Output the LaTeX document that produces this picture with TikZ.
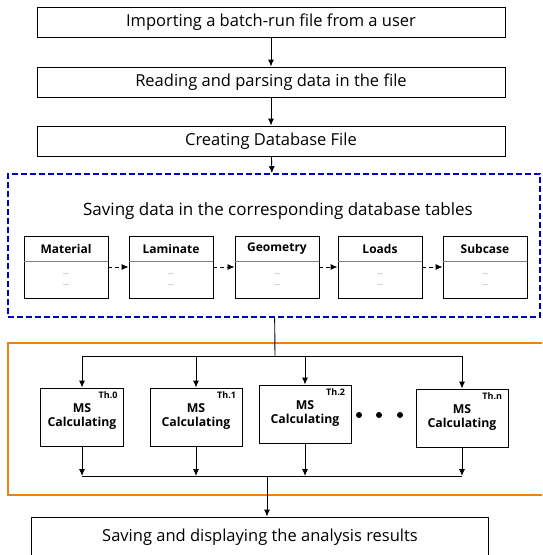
\documentclass[tikz,border=0pt]{standalone}
\usepackage{fontspec}
\setmainfont{Open Sans}
\usetikzlibrary{positioning,arrows.meta}

\begin{document}
\begin{tikzpicture}[x=1pt,y=-1pt,line width=0.9pt,
  arr/.style={-{Latex[length=7pt,width=6pt]}},
  procbox/.style={draw,inner sep=0pt,minimum width=468pt,minimum height=30pt,font=\fontsize{16.5}{18}\selectfont},
  tablebox/.style={draw,inner sep=0pt,minimum width=84pt,minimum height=62pt},
  tablehead/.style={font=\bfseries\fontsize{12}{14}\selectfont},
  tablebody/.style={font=\fontsize{7.5}{8}\selectfont,text=gray,align=center},
  calcbox/.style={draw,inner sep=0pt,minimum height=58pt,align=center,font=\bfseries\fontsize{12.3}{14}\selectfont},
  thlabel/.style={inner sep=0pt,font=\bfseries\fontsize{9}{10}\selectfont},
  dot/.style={circle,fill,inner sep=0pt,minimum size=6pt}]
\useasboundingbox (0,0) rectangle (542,555);
\clip (0,0) rectangle (542,555);
\fill[white] (0,0) rectangle (542,555);
% preparing the data
\node[procbox] (import) at (271,22)  {Importing a batch-run file from a user};
\node[procbox] (read)   at (271,82)  {Reading and parsing data in the file};
\node[procbox] (create) at (271,141) {Creating Database File};
\node[draw=blue!75!black,dash pattern=on 6pt off 3pt,line width=1.6pt,minimum width=532pt,minimum height=143pt] (db) at (274,245.5) {};
\node[font=\fontsize{17}{18}\selectfont] (dbtitle) at (278,211) {Saving data in the corresponding database tables};
\draw[arr] (import) -- (read);
\draw[arr] (read) -- (create);
\draw[arr] (create) -- (db);
% database tables
\foreach \i/\name/\x in {1/Material/66,2/Laminate/171,3/Geometry/277,4/Loads/380,5/Subcase/485}{
  \node[tablebox] (tab\i) at (\x,267) {};
  \node[tablehead] (head\i) at (\x,249) {\name};
  \node[tablebody] (body\i) at (\x,280) {...\\[3pt]...};
  \draw[gray,line width=0.7pt] (tab\i.north west) ++(0,26) -- ++(84,0);
}
\foreach \i/\j in {1/2,2/3,3/4,4/5}
  \draw[dash pattern=on 4pt off 3pt,arr] (tab\i) -- (tab\j);
% MS calculation threads
\node[draw=orange!80!brown,line width=1.6pt,minimum width=538pt,minimum height=152pt] (calc) at (277,419) {};
\coordinate (split) at (275,356);
\coordinate (join) at (267,476);
\draw (db) -- (split);
\foreach \i/\x/\y/\w in {0/82/417/83,1/196/417/92,2/305/414/92,n/462/418/92}{
  \node[calcbox,minimum width=\w pt] (th\i) at (\x,\y) {MS\\Calculating};
  \node[thlabel,anchor=north east] (lab\i) at ([xshift=-6pt,yshift=-4pt]th\i.north east) {Th.\i};
  \draw[arr] (split) -| (th\i);
  \draw[arr] (th\i) -- (th\i.south |- join);
}
\draw (th0.south |- join) -- (thn.south |- join);
\foreach \k/\x in {1/359,2/379,3/400}
  \node[dot] (dot\k) at (\x,415) {};
% results
\node[procbox,minimum width=457pt,minimum height=40pt] (save) at (260,537) {Saving and displaying the analysis results};
\draw[arr] (join) -- (join |- save.north);
\end{tikzpicture}
\end{document}
